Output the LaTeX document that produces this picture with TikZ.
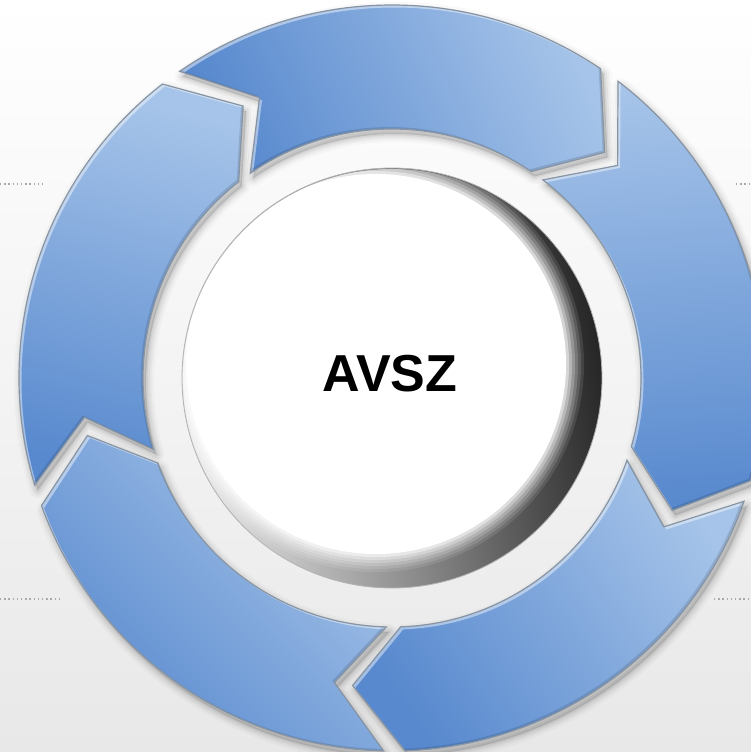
\documentclass[tikz,border=0pt]{standalone}
\usepackage{fontspec}
\setmainfont{Liberation Sans}
\definecolor{arrdark}{RGB}{88,137,206}
\definecolor{arrlight}{RGB}{166,196,233}
\definecolor{arredge}{RGB}{135,148,163}
\definecolor{dotgray}{RGB}{170,170,170}
% arrow outline, offset by (#1,#2); uses \angA (tail), \angB (head base), \angT (tip), \angN (notch)
\newcommand\arrpath[2]{([shift={({392+(#1)},{374+(#2)})}]\angA:373) arc[start angle=\angA, end angle=\angB, radius=373] -- ([shift={({392+(#1)},{374+(#2)})}]\angT:310) -- ([shift={({392+(#1)},{374+(#2)})}]\angB:249) arc[start angle=\angB, end angle=\angA, radius=249] -- ([shift={({392+(#1)},{374+(#2)})}]\angN:310) -- cycle}
\tikzset{
  dotline/.style={dotgray, line width=1.3pt, dash pattern=on 1.4pt off 2.8pt},
  arrowshade/.style={top color=arrlight, bottom color=arrdark},
  arrowedge/.style={arredge, line width=1.2pt, line join=miter},
  labeltext/.style={font=\bfseries\fontsize{52}{60}\selectfont, text=black}
}
\begin{document}
\begin{tikzpicture}[x=1pt,y=1pt]
\useasboundingbox (0,0) rectangle (751,752);
\clip (0,0) rectangle (751,752);
% background
\shade[top color=white, bottom color=black!9] (0,0) rectangle (751,752);
% dotted lines
\draw[dotline] (0,568) -- (46,568);
\draw[dotline] (736,568) -- (751,568);
\draw[dotline] (0,153) -- (62,153);
\draw[dotline] (714,153) -- (751,153);
% shadows of the arrows
\foreach \k in {0,...,4}{
  \pgfmathsetmacro\angA{124.7-72*\k}
  \pgfmathsetmacro\angB{\angA-68.7}
  \pgfmathsetmacro\angT{\angA-78}
  \pgfmathsetmacro\angN{\angA-9.4}
  \fill[black, opacity=0.12] \arrpath{3}{-5};
  \foreach \w/\o in {16/0.025, 11/0.035, 7/0.045, 3/0.06}{
    \draw[black, opacity=\o, line width=\w pt, line join=round] \arrpath{3}{-5};
  }
}
% arrows
\foreach \k/\shAng in {0/-65, 1/5, 2/-55, 3/-45, 4/-15}{
  \pgfmathsetmacro\angA{124.7-72*\k}
  \pgfmathsetmacro\angB{\angA-68.7}
  \pgfmathsetmacro\angT{\angA-78}
  \pgfmathsetmacro\angN{\angA-9.4}
  \shade[arrowshade, shading angle=\shAng] \arrpath{0}{0};
  \begin{scope}
    \clip \arrpath{0}{0};
    \fill[white, opacity=0.45, even odd rule] \arrpath{0}{0} \arrpath{2.5}{-2.5};
    \fill[black, opacity=0.12, even odd rule] \arrpath{0}{0} \arrpath{-2}{2};
  \end{scope}
  \draw[arrowedge] \arrpath{0}{0};
}
% centre disc
\coordinate (C) at (392,374);
\coordinate (W) at (376,388);
\shade[top color=black!85, middle color=black!30, bottom color=black!10, shading angle=-80] (C) circle[radius=210];
\begin{scope}
  \clip (C) circle[radius=209];
  \foreach \r/\o in {208/0.1, 205/0.13, 202/0.17, 199/0.22, 196/0.3, 193/0.45}{
    \fill[white, opacity=\o] (W) circle[radius=\r];
  }
  \fill[white] (W) circle[radius=190];
\end{scope}
\draw[black!30, line width=0.8pt] (C) circle[radius=210];
\node[labeltext] (label) at (390,378) {AVSZ};
\end{tikzpicture}
\end{document}
